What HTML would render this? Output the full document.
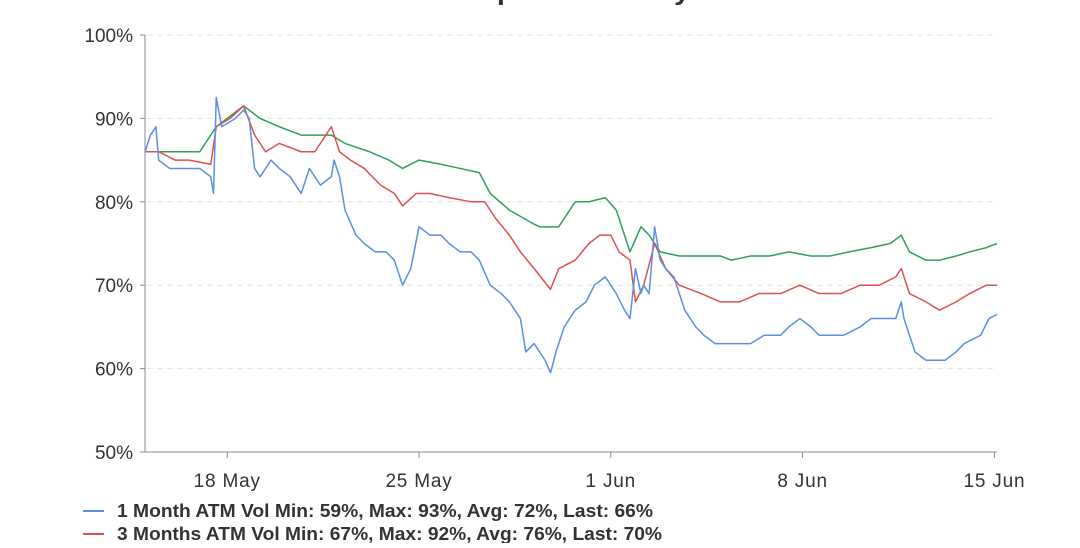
<!DOCTYPE html>
<html><head><meta charset="utf-8"><style>
body{margin:0;background:#fff;width:1080px;height:543px;overflow:hidden;font-family:"Liberation Sans",sans-serif}
</style></head><body>
<svg width="1080" height="543" xmlns="http://www.w3.org/2000/svg">
<text x="95" y="-1" font-size="22" fill="#bbb">Deribit</text>
<text x="395" y="0" font-size="25" font-weight="bold" fill="#333" textLength="295" lengthAdjust="spacingAndGlyphs">ATM Implied Volatility</text>
<g id="grid"></g><g id="axes"></g><g id="series"></g>
<g font-size="18.5" font-weight="bold" fill="#333">
<line x1="83" y1="511" x2="104" y2="511" stroke="#5b8ee6" stroke-width="2"/>
<text x="117" y="517" textLength="536" lengthAdjust="spacingAndGlyphs">1 Month ATM Vol Min: 59%, Max: 93%, Avg: 72%, Last: 66%</text>
<line x1="83" y1="534" x2="104" y2="534" stroke="#e05050" stroke-width="2"/>
<text x="117" y="540" textLength="545" lengthAdjust="spacingAndGlyphs">3 Months ATM Vol Min: 67%, Max: 92%, Avg: 76%, Last: 70%</text>
</g>
</svg>
<script>
const yTicks=[50,60,70,80,90,100];
const xTickDays=[3,10,17,24,31];
const xTickLabels=["18 May","25 May","1 Jun","8 Jun","15 Jun"];
const blueT=[0,0.2,0.4,0.5,0.9,1.3,1.6,2.0,2.4,2.5,2.6,2.8,3.3,3.6,3.8,4.0,4.2,4.6,4.9,5.3,5.7,6.0,6.4,6.8,6.9,7.1,7.3,7.7,8.0,8.4,8.8,9.1,9.4,9.7,10.0,10.4,10.8,11.1,11.5,11.9,12.2,12.6,13.0,13.3,13.7,13.9,14.2,14.6,14.8,15.0,15.3,15.7,16.1,16.4,16.8,17.2,17.5,17.7,17.9,18.1,18.2,18.4,18.6,18.8,19.0,19.3,19.7,20.1,20.4,20.8,21.2,21.5,22.1,22.6,23.2,23.5,23.9,24.3,24.6,25.0,25.5,26.1,26.5,26.8,27.4,27.6,27.7,28.1,28.5,28.8,29.2,29.6,29.9,30.5,30.8,31.1];
const blueV=[86,88,89,85,84,84,84,84,83,81,92.5,89,90,91,90,84,83,85,84,83,81,84,82,83,85,83,79,76,75,74,74,73,70,72,77,76,76,75,74,74,73,70,69,68,66,62,63,61,59.5,62,65,67,68,70,71,69,67,66,72,69,70,69,77,73,72,71,67,65,64,63,63,63,63,64,64,65,66,65,64,64,64,65,66,66,66,68,66,62,61,61,61,62,63,64,66,66.5];
const redT=[0,0.5,1.1,1.6,2.4,2.6,3.1,3.6,4.0,4.4,4.9,5.7,6.2,6.8,7.1,7.5,8.0,8.6,9.1,9.4,9.9,10.4,11.1,11.9,12.4,12.8,13.3,13.7,14.2,14.8,15.1,15.7,16.2,16.6,17.0,17.3,17.7,17.9,18.2,18.6,19.0,19.5,20.3,21.0,21.7,22.4,23.2,23.9,24.6,25.4,26.1,26.8,27.4,27.6,27.9,28.5,29.0,29.6,30.1,30.7,31.1];
const redV=[86,86,85,85,84.5,89,90,91.5,88,86,87,86,86,89,86,85,84,82,81,79.5,81,81,80.5,80,80,78,76,74,72,69.5,72,73,75,76,76,74,73,68,70,75,72,70,69,68,68,69,69,70,69,69,70,70,71,72,69,68,67,68,69,70,70];
const greenT=[0,1.1,2.0,2.6,3.6,4.2,4.9,5.7,6.8,7.3,8.2,8.9,9.4,10.0,10.8,11.5,12.2,12.6,13.3,14.1,14.4,15.1,15.7,16.2,16.8,17.2,17.5,17.7,18.1,18.4,18.8,19.5,20.3,21.0,21.4,22.1,22.8,23.5,24.3,25.0,25.7,26.5,27.2,27.6,27.9,28.5,29.0,29.6,30.1,30.7,31.1];
const greenV=[86,86,86,89,91.5,90,89,88,88,87,86,85,84,85,84.5,84,83.5,81,79,77.5,77,77,80,80,80.5,79,76,74,77,76,74,73.5,73.5,73.5,73,73.5,73.5,74,73.5,73.5,74,74.5,75,76,74,73,73,73.5,74,74.5,75];
const NS="http://www.w3.org/2000/svg";
const x=d=>145+d*27.4, y=v=>35+(100-v)*8.34;
function mk(tag,at,parent){const e=document.createElementNS(NS,tag);for(const k in at)e.setAttribute(k,at[k]);document.getElementById(parent).appendChild(e);return e;}
yTicks.forEach(v=>{
  if(v>50){const g=mk('line',{x1:147,x2:997,y1:y(v),y2:y(v),stroke:'#e3e3e3','stroke-dasharray':'6,4'},'grid');
  
  }
  const t=mk('text',{x:133,y:y(v)+7,'text-anchor':'end','font-size':19,fill:'#333'},'axes');t.textContent=v+'%';
  
  
  mk('line',{x1:140,x2:145,y1:y(v),y2:y(v),stroke:'#888'},'axes');
});
const ax=mk('line',{x1:145,x2:145,y1:35,y2:452,stroke:'#888'},'axes');


const bx=mk('line',{x1:145,x2:997,y1:452,y2:452,stroke:'#888'},'axes');


xTickDays.forEach((d,i)=>{
  mk('line',{x1:x(d),x2:x(d),y1:452,y2:458,stroke:'#888'},'axes');
  const t=mk('text',{x:x(d),y:487,'text-anchor':'middle','font-size':19,fill:'#333','letter-spacing':'0.8'},'axes');t.textContent=xTickLabels[i];
  
  
});
[[greenT,greenV,'#2ea05a','series-green'],[redT,redV,'#e05050','series-3m'],[blueT,blueV,'#5b8ee6','series-1m']].forEach(([T,V,c,n])=>{
  const p=mk('polyline',{points:T.map((t,i)=>x(t)+','+y(V[i])).join(' '),fill:'none',stroke:c,'stroke-width':1.5,'stroke-linejoin':'round'},'series');
  
  
});
</script>
</body></html>
